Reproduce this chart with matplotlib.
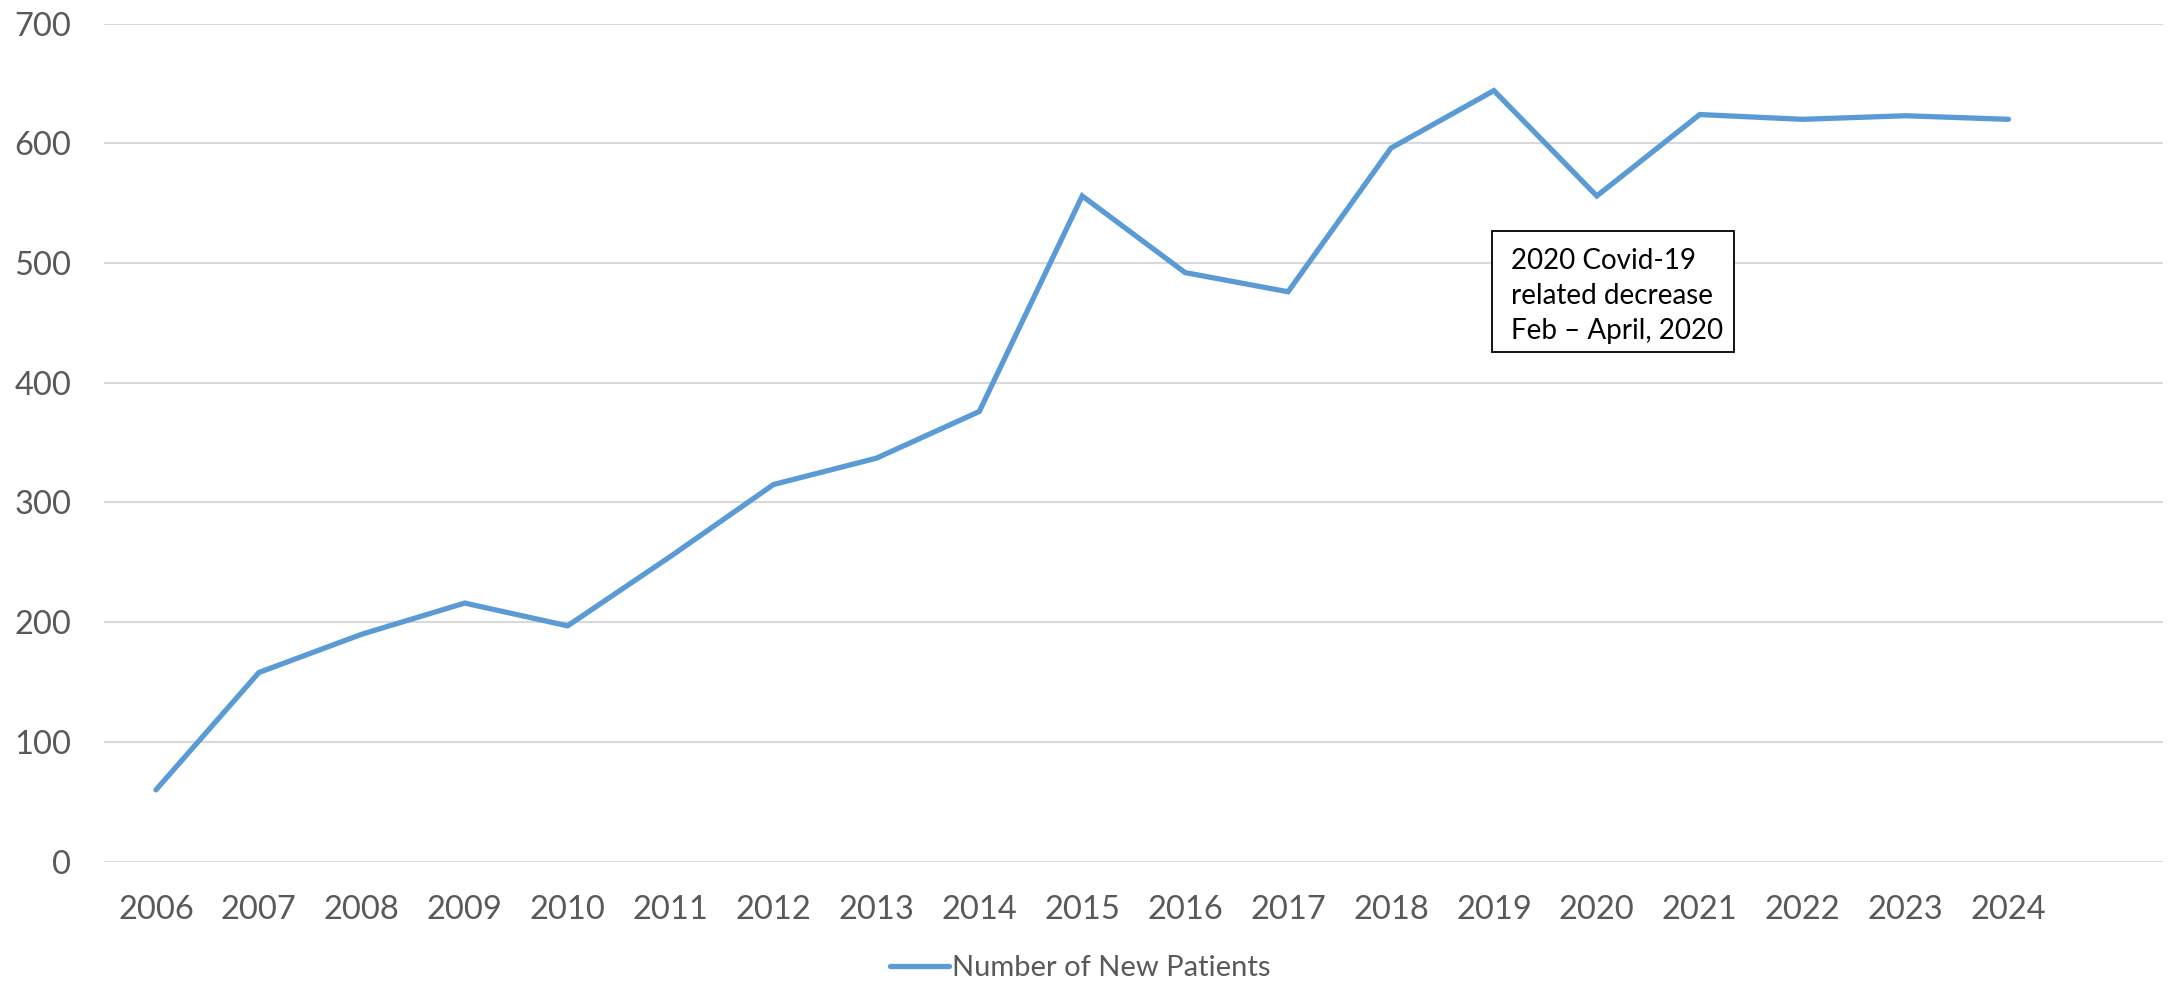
import matplotlib.pyplot as plt
from matplotlib.patches import Rectangle

plt.rcParams['font.family'] = ['Lato', 'DejaVu Sans']

years = ['2006', '2007', '2008', '2009', '2010', '2011', '2012', '2013', '2014', '2015',
         '2016', '2017', '2018', '2019', '2020', '2021', '2022', '2023', '2024']
new_patients = [60, 158, 190, 216, 197, 255, 315, 337, 376, 556,
                492, 476, 596, 644, 556, 624, 620, 623, 620]
note_lines = ['2020 Covid-19', 'related decrease', 'Feb \u2013 April, 2020']

line_color = '#5B9BD5'
text_color = '#595959'
grid_color = '#D9D9D9'

fig = plt.figure(figsize=(21.77, 9.81), dpi=100)
ax = fig.add_axes([0.048, 0.1216, 0.9455, 0.8544])

x = range(len(years))
ax.plot(x, new_patients, color=line_color, linewidth=3.8, solid_capstyle='round',
        solid_joinstyle='miter', label='Number of New Patients', zorder=3)

# one empty slot is left after the last year
ax.set_xlim(-0.5, len(years) + 0.5)
ax.set_ylim(0, 700)
ax.set_yticks(range(0, 701, 100))
ax.set_xticks(list(x))
ax.set_xticklabels(years)

ax.grid(axis='y', color=grid_color, linewidth=1.5)
ax.set_axisbelow(True)
for side in ax.spines.values():
    side.set_visible(False)
ax.tick_params(axis='both', length=0, labelsize=23.5, labelcolor=text_color)
ax.tick_params(axis='x', pad=24)
ax.tick_params(axis='y', pad=24)

# text box about the 2020 dip
ax.add_patch(Rectangle((12.98, 426), 2.35, 101, transform=ax.transData,
                       facecolor='white', edgecolor='black', linewidth=1.3, zorder=4))
for i, line in enumerate(note_lines):
    ax.text(13.17, 502 - i * 29.5, line, fontsize=20, color='black',
            va='center', ha='left', zorder=5)

fig.legend(loc='center', bbox_to_anchor=(0.4963, 0.013), frameon=False,
           fontsize=21, labelcolor=text_color, handlelength=2.0, handletextpad=0.12)

fig.savefig('out.png', dpi=100)
